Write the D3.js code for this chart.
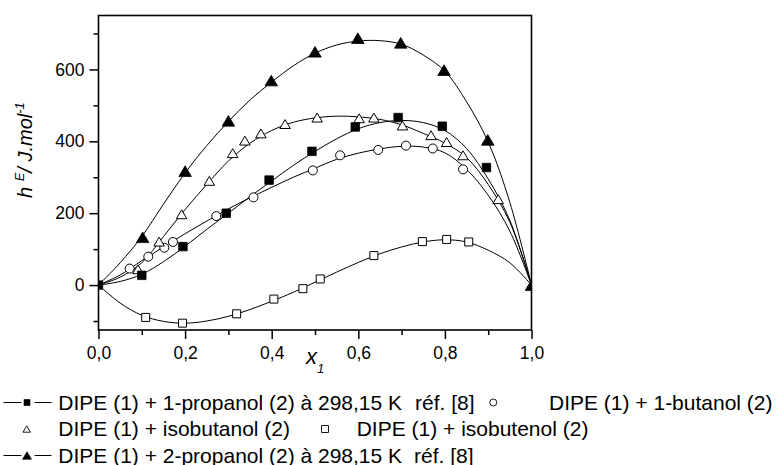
<!DOCTYPE html>
<html>
<head>
<meta charset="utf-8">
<script src="https://cdn.jsdelivr.net/npm/d3@7"></script>
<style>
  html, body { margin: 0; padding: 0; background: #fff; }
  svg { display: block; font-family: "Liberation Sans", Arial, Helvetica, sans-serif; }
</style>
</head>
<body>
<svg id="chart" width="780" height="465"></svg>
<script>
// ---- Measured excess enthalpies h^E (J/mol) against x1 (DIPE mole fraction) ----
const propanol1X = [0, 0.100, 0.195, 0.295, 0.394, 0.493, 0.593, 0.692, 0.794, 0.896];
const propanol1Y = [0, 27, 107, 200, 292, 372, 440, 466, 442, 327];

const butanolX = [0.072, 0.115, 0.152, 0.172, 0.272, 0.358, 0.495, 0.558, 0.646, 0.710, 0.772, 0.842];
const butanolY = [46, 79, 104, 120, 192, 244, 319, 361, 376, 388, 380, 322];

const isobutanolX = [0.091, 0.140, 0.192, 0.256, 0.310, 0.338, 0.375, 0.431, 0.505, 0.602, 0.636, 0.702, 0.768, 0.804, 0.842, 0.923];
const isobutanolY = [44, 121, 197, 290, 367, 402, 422, 448, 466, 464, 466, 444, 417, 398, 361, 239];

const isobutenolX = [0.109, 0.194, 0.319, 0.405, 0.472, 0.512, 0.636, 0.748, 0.804, 0.855];
const isobutenolY = [-90, -106, -80, -39, -10, 17, 82, 121, 127, 120];

const propanol2X = [0.102, 0.200, 0.300, 0.399, 0.500, 0.599, 0.698, 0.798, 0.899, 1];
const propanol2Y = [133, 317, 457, 569, 649, 687, 674, 598, 404, 0];

// ---- Smoothed correlation curves, sampled on a common x1 grid ----
const fitX = [0, 0.05, 0.10, 0.15, 0.20, 0.25, 0.30, 0.35, 0.40, 0.45, 0.50,
              0.55, 0.60, 0.65, 0.70, 0.75, 0.80, 0.85, 0.90, 0.95, 1];
const fitPropanol1  = [0, 10, 30, 65, 108, 155, 200, 246, 290, 333, 372, 407, 435, 452, 458, 452, 430, 380, 295, 180, 0];
const fitButanol    = [0, 28, 68, 106, 143, 178, 212, 243, 272, 300, 325, 350, 367, 379, 386, 384, 368, 322, 250, 150, 0];
const fitIsobutanol = [0, 22, 62, 135, 210, 280, 345, 395, 430, 453, 465, 470, 468, 461, 446, 422, 395, 355, 280, 175, 0];
const fitIsobutenol = [0, -50, -84, -101, -106, -100, -87, -68, -45, -20, 8, 36, 63, 87, 106, 120, 126, 120, 97, 62, 0];
const fitPropanol2  = [0, 62, 135, 225, 312, 388, 455, 515, 565, 610, 645, 668, 679, 680, 670, 640, 595, 510, 398, 230, 0];

// ---- Axis ticks ----
const xMajorTicks = [0, 0.2, 0.4, 0.6, 0.8, 1.0];
const xMinorTicks = [0.1, 0.3, 0.5, 0.7, 0.9];
const yMajorTicks = [0, 200, 400, 600];
const yMinorTicks = [-100, 100, 300, 500, 700];

// ---- Legend entries ----
const legendRow1a = "DIPE (1) + 1-propanol (2) à 298,15 K";
const legendRow1b = "réf. [8]";
const legendRow1c = "DIPE (1) + 1-butanol (2)";
const legendRow2a = "DIPE (1) + isobutanol (2)";
const legendRow2b = "DIPE (1) + isobutenol (2)";
const legendRow3a = "DIPE (1) + 2-propanol (2) à 298,15 K";
const legendRow3b = "réf. [8]";

const svg = d3.select("#chart");
const plot = { left: 98.5, right: 531.5, top: 15.5, bottom: 330 };

const x = d3.scaleLinear().domain([0, 1]).range([plot.left, plot.right]);
const y = d3.scaleLinear().domain([-125, 750]).range([plot.bottom, plot.top]);

const commaFmt = d3.formatLocale({ decimal: ",", thousands: ".", grouping: [3], currency: ["", ""] }).format(".1f");

// clip region for the plot area
svg.append("defs").append("clipPath").attr("id", "plotClip")
  .append("rect")
  .attr("x", plot.left).attr("y", plot.top)
  .attr("width", plot.right - plot.left).attr("height", plot.bottom - plot.top);

// ---- Axes ----
const tickFont = "17.5px";
function styleAxis(g) {
  g.select(".domain").remove();
  g.selectAll(".tick line").attr("stroke", "#000").attr("stroke-width", 1.5);
  g.selectAll(".tick text").attr("fill", "#000").style("font-size", tickFont)
    .style("font-family", '"Liberation Sans", Arial, sans-serif');
}

svg.append("g").attr("transform", `translate(0,${plot.bottom})`)
  .call(d3.axisBottom(x).tickValues(xMajorTicks).tickSize(9).tickPadding(8).tickFormat(commaFmt))
  .call(styleAxis);
svg.append("g").attr("transform", `translate(0,${plot.bottom})`)
  .call(d3.axisBottom(x).tickValues(xMinorTicks).tickSize(5).tickFormat(""))
  .call(styleAxis);
svg.append("g").attr("transform", `translate(${plot.left},0)`)
  .call(d3.axisLeft(y).tickValues(yMajorTicks).tickSize(9).tickPadding(5).tickFormat(d3.format("d")))
  .call(styleAxis);
svg.append("g").attr("transform", `translate(${plot.left},0)`)
  .call(d3.axisLeft(y).tickValues(yMinorTicks).tickSize(5).tickFormat(""))
  .call(styleAxis);

// ---- Frame ----
svg.append("rect")
  .attr("x", plot.left).attr("y", plot.top)
  .attr("width", plot.right - plot.left).attr("height", plot.bottom - plot.top)
  .attr("fill", "none").attr("stroke", "#000").attr("stroke-width", 1.6);

// ---- Curves ----
const line = d3.line()
  .x(d => x(d[0])).y(d => y(d[1]))
  .curve(d3.curveCatmullRom.alpha(0.5));

const curves = [fitPropanol1, fitButanol, fitIsobutanol, fitIsobutenol, fitPropanol2];
const curveG = svg.append("g").attr("clip-path", "url(#plotClip)");
curves.forEach(vals => {
  curveG.append("path")
    .attr("d", line(fitX.map((xv, i) => [xv, vals[i]])))
    .attr("fill", "none").attr("stroke", "#000").attr("stroke-width", 1);
});

// ---- Marker shapes (centred on their bounding box) ----
function markerPath(kind, s) {
  const p = d3.path();
  const h = s / 2;
  if (kind === "square") {
    p.rect(-h, -h, s, s);
  } else if (kind === "circle") {
    p.moveTo(h, 0); p.arc(0, 0, h, 0, 2 * Math.PI);
  } else if (kind === "triangle") {
    const th = s * 0.85;
    p.moveTo(0, -th / 2); p.lineTo(h, th / 2); p.lineTo(-h, th / 2); p.closePath();
  }
  return p.toString();
}

const series = [
  { xs: isobutenolX, ys: isobutenolY, kind: "square",   size: 8,    filled: false },
  { xs: butanolX,    ys: butanolY,    kind: "circle",   size: 9,    filled: false },
  { xs: isobutanolX, ys: isobutanolY, kind: "triangle", size: 10.5, filled: false },
  { xs: propanol2X,  ys: propanol2Y,  kind: "triangle", size: 12.5, filled: true },
  { xs: propanol1X,  ys: propanol1Y,  kind: "square",   size: 8.5,  filled: true }
];

const markG = svg.append("g").attr("clip-path", "url(#plotClip)");
series.forEach(s => {
  markG.append("g").selectAll("path")
    .data(s.xs.map((xv, i) => [xv, s.ys[i]]))
    .join("path")
    .attr("transform", d => `translate(${x(d[0])},${y(d[1])})`)
    .attr("d", markerPath(s.kind, s.size))
    .attr("fill", s.filled ? "#000" : "#fff")
    .attr("stroke", "#000").attr("stroke-width", s.filled ? 0.8 : 1);
});

// ---- Axis titles ----
const yTitle = svg.append("text")
  .attr("transform", "translate(32,198) rotate(-90)")
  .attr("font-style", "italic").attr("fill", "#000")
  .style("font-size", "20px");
yTitle.append("tspan").text("h ");
yTitle.append("tspan").attr("dy", -8).style("font-size", "13px").text("E");
yTitle.append("tspan").attr("dy", 8).text("/ J.mol");
yTitle.append("tspan").attr("dy", -8).style("font-size", "13px").text("-1");

const xTitle = svg.append("text")
  .attr("x", 306).attr("y", 363.5)
  .attr("font-style", "italic").attr("fill", "#000")
  .style("font-size", "22px");
xTitle.append("tspan").text("x");
xTitle.append("tspan").attr("dy", 9).style("font-size", "13px").text("1");

// ---- Legend ----
const lg = svg.append("g");
const legFont = "21px";
function legText(tx, ty, str) {
  lg.append("text").attr("x", tx).attr("y", ty).attr("fill", "#000")
    .style("font-size", legFont).text(str);
}
function legMarker(cx, cy, kind, size, filled) {
  lg.append("path")
    .attr("transform", `translate(${cx},${cy})`)
    .attr("d", markerPath(kind, size))
    .attr("fill", filled ? "#000" : "#fff")
    .attr("stroke", "#000").attr("stroke-width", filled ? 0.6 : 0.9);
}
function legLine(cy) {
  lg.append("line").attr("x1", 3.5).attr("x2", 21.5).attr("y1", cy).attr("y2", cy)
    .attr("stroke", "#000").attr("stroke-width", 1);
  lg.append("line").attr("x1", 34.5).attr("x2", 51.5).attr("y1", cy).attr("y2", cy)
    .attr("stroke", "#000").attr("stroke-width", 1);
}

const rowY = [402.5, 429, 455.5];
const rowBase = [409.5, 436, 462.5];

legLine(rowY[0]);
legMarker(27, rowY[0], "square", 6, true);
legText(58.3, rowBase[0], legendRow1a);
legText(415, rowBase[0], legendRow1b);
legMarker(493.3, rowY[0], "circle", 7, false);
legText(549, rowBase[0], legendRow1c);

legMarker(26.7, rowY[1], "triangle", 7.5, false);
legText(58.3, rowBase[1], legendRow2a);
legMarker(325, rowY[1], "square", 7, false);
legText(356.7, rowBase[1], legendRow2b);

legLine(rowY[2]);
legMarker(27, rowY[2], "triangle", 9, true);
legText(58.3, rowBase[2], legendRow3a);
legText(414, rowBase[2], legendRow3b);
</script>
</body>
</html>
